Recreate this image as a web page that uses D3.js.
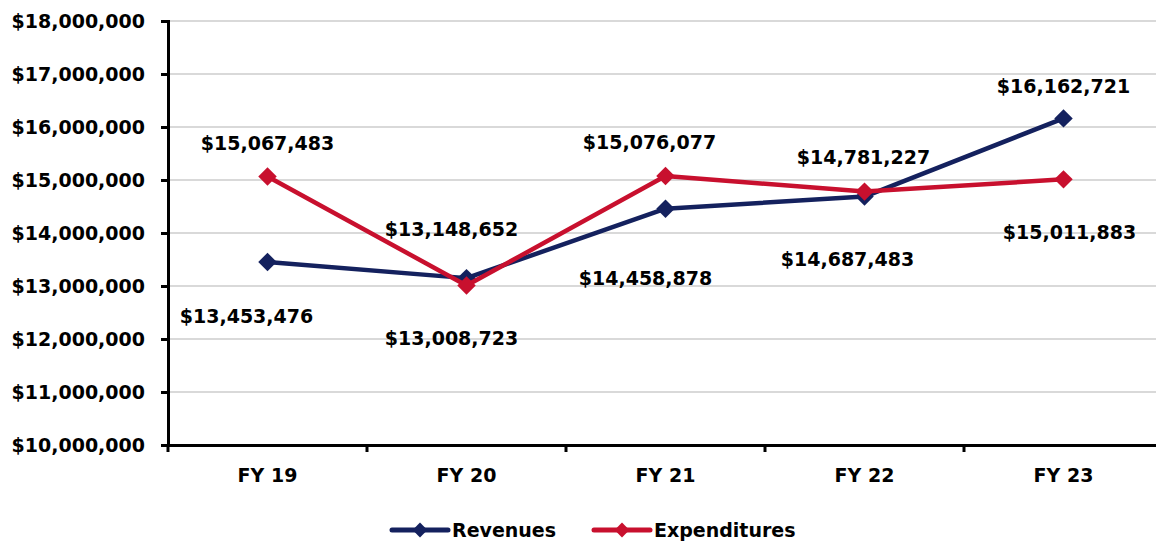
<!DOCTYPE html>
<html>
<head>
<meta charset="utf-8">
<script src="https://cdn.jsdelivr.net/npm/d3@7"></script>
<style>
    body { margin: 0; background: #fff; }
    text { font-family: "DejaVu Sans", sans-serif; font-weight: bold; fill: #000; }
</style>
</head>
<body>
<svg id="chart" width="1156" height="544"></svg>
<script>
// chart data
const years = ["FY 19", "FY 20", "FY 21", "FY 22", "FY 23"];
const revenues = [13453476, 13148652, 14458878, 14687483, 16162721];
const expenditures = [15067483, 13008723, 15076077, 14781227, 15011883];
const yTicks = [10000000, 11000000, 12000000, 13000000, 14000000, 15000000, 16000000, 17000000, 18000000];

// label placement (dx, dy from point)
const revLabelPos = [[-21, 54], [-15, -49], [-20, 69], [-17, 62], [0, -32]];
const expLabelPos = [[0, -33], [-15, 52], [-16, -34], [-1, -35], [6, 53]];

const svg = d3.select("#chart");
const plotLeft = 168, plotTop = 21, plotBottom = 445, plotRight = 1163;

let x = d3.scaleBand().domain(years).range([plotLeft, plotRight]);
let y = d3.scaleLinear().domain([10000000, 18000000]).range([plotBottom, plotTop]);
let fmt = d3.format("$,");

// gridlines
svg.append("g")
    .selectAll("line")
    .data(yTicks.slice(1))
    .enter().append("line")
    .attr("x1", plotLeft)
    .attr("x2", 1156)
    .attr("y1", d => y(d))
    .attr("y2", d => y(d))
    .attr("stroke", "#d9d9d9")
    .attr("stroke-width", 2);

// y axis
let yAxis = svg.append("g")
    .attr("transform", `translate(${plotLeft},0)`)
    .call(d3.axisLeft(y).tickValues(yTicks).tickFormat(fmt).tickSize(7).tickPadding(16));
yAxis.select(".domain").attr("stroke", "#000").attr("stroke-width", 3);
yAxis.selectAll(".tick line").attr("stroke", "#000").attr("stroke-width", 3);
yAxis.selectAll("text").style("font-size", "19px").attr("fill", "#000");

// x axis with ticks at category borders
let xAxis = svg.append("g")
    .attr("transform", `translate(0,${plotBottom})`)
    .call(d3.axisBottom(x).tickSize(0).tickPadding(24));
xAxis.select(".domain").attr("stroke", "#000").attr("stroke-width", 3);
xAxis.selectAll("text").style("font-size", "19px").attr("fill", "#000");
xAxis.selectAll("line.border")
    .data(years)
    .enter().append("line")
    .attr("class", "border")
    .attr("x1", d => x(d))
    .attr("x2", d => x(d))
    .attr("y1", 0)
    .attr("y2", 7)
    .attr("stroke", "#000")
    .attr("stroke-width", 3);

const series = [
    { name: "Revenues", values: revenues, color: "#14215e", pos: revLabelPos },
    { name: "Expenditures", values: expenditures, color: "#c8102e", pos: expLabelPos }
];

let cx = d => x(d) + x.bandwidth() / 2;
let line = d3.line()
    .x((d, i) => cx(years[i]))
    .y(d => y(d));

let diamond = d3.symbol().type(d3.symbolSquare).size(170);

series.forEach(s => {
    let g = svg.append("g");
    g.append("path")
        .datum(s.values)
        .attr("d", line)
        .attr("fill", "none")
        .attr("stroke", s.color)
        .attr("stroke-width", 4.5)
        .attr("stroke-linejoin", "round");
    g.selectAll("path.marker")
        .data(s.values)
        .enter().append("path")
        .attr("class", "marker")
        .attr("d", diamond)
        .attr("transform", (d, i) => `translate(${cx(years[i])},${y(d)}) rotate(45)`)
        .attr("fill", s.color);
});

// data labels
series.forEach(s => {
    svg.append("g")
        .selectAll("text")
        .data(s.values)
        .enter().append("text")
        .attr("x", (d, i) => cx(years[i]) + s.pos[i][0])
        .attr("y", (d, i) => y(d) + s.pos[i][1])
        .attr("text-anchor", "middle")
        .attr("dominant-baseline", "central")
        .style("font-size", "19px")
        .text(d => fmt(d));
});

// legend
let legend = svg.append("g")
    .selectAll("g")
    .data(series)
    .enter().append("g")
    .attr("transform", (d, i) => `translate(${i === 0 ? 392 : 594},530)`);
legend.append("line")
    .attr("x1", 0)
    .attr("x2", 56)
    .attr("stroke", d => d.color)
    .attr("stroke-width", 5)
    .attr("stroke-linecap", "round");
legend.append("path")
    .attr("d", d3.symbol().type(d3.symbolSquare).size(110))
    .attr("transform", "translate(28,0) rotate(45)")
    .attr("fill", d => d.color);
legend.append("text")
    .attr("x", 60)
    .attr("dominant-baseline", "central")
    .style("font-size", "19px")
    .text(d => d.name);
</script>
</body>
</html>
